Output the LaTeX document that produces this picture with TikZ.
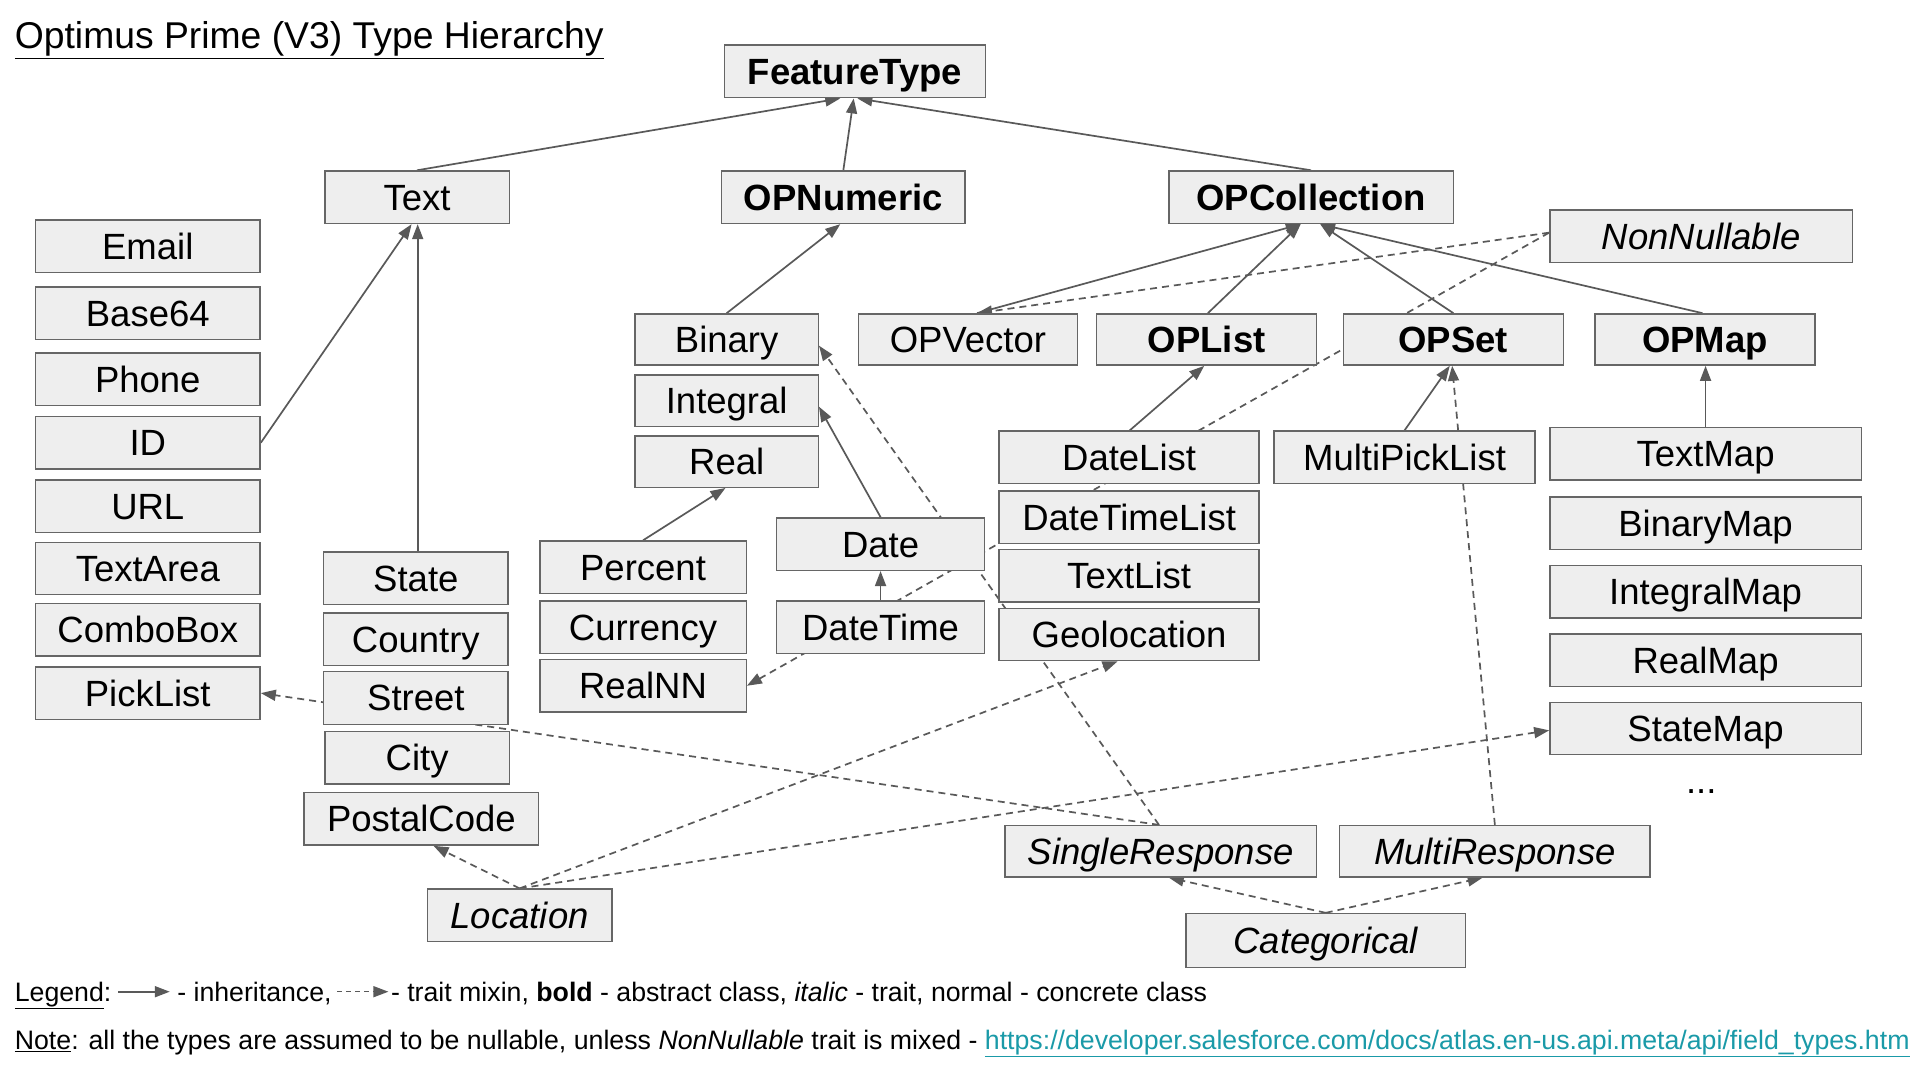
\documentclass[tikz,border=0pt]{standalone}
\usepackage{fontspec}
\setmainfont{Liberation Sans}
\usetikzlibrary{arrows.meta,calc}
\definecolor{boxfill}{HTML}{EEEEEE}
\definecolor{boxdraw}{HTML}{666666}
\definecolor{conn}{HTML}{595959}
\definecolor{linkc}{HTML}{1A9AA8}
\pgfdeclarelayer{bg}
\pgfsetlayers{bg,main}
\tikzset{
  lblfont/.style={font=\fontsize{36.5}{40}\selectfont},
  box/.style={draw=boxdraw, fill=boxfill, line width=1.4pt, inner sep=0pt,
              text height=26pt, text depth=0pt, lblfont},
  abst/.style={font=\fontsize{36.5}{40}\selectfont\bfseries},
  trait/.style={font=\fontsize{36.5}{40}\selectfont\itshape},
  wh/.style 2 args={minimum width=#1*1.2213pt, minimum height=#2*1.2213pt},
  inh/.style={draw=conn, line width=1.7pt, -{Triangle[length=15pt,width=11pt]}},
  mix/.style={inh, dash pattern=on 7pt off 5pt},
  small/.style={font=\fontsize{26.7}{30}\selectfont, inner sep=0pt},
}
\begin{document}
\begin{tikzpicture}[x=1.2213pt, y=-1.2213pt]
\useasboundingbox (0,0) rectangle (1568,876);
\begin{pgfonlayer}{bg}
\fill[white] (0,0) rectangle (1568,876);
\end{pgfonlayer}

% title
\node[anchor=base west, font=\fontsize{37.3}{40}\selectfont, inner sep=0pt] (title) at (12,40) {\underline{Optimus Prime (V3) Type Hierarchy}};

% top level
\node[box, abst, wh={214}{43}] (FeatureType) at (700,58.5) {FeatureType};
\node[box, wh={151}{43}] (Text) at (341.5,161.5) {Text};
\node[box, abst, wh={199}{43}] (OPNumeric) at (690.5,161.5) {OPNumeric};
\node[box, abst, wh={233}{43}] (OPCollection) at (1073.5,161.5) {OPCollection};
\node[box, trait, wh={248}{43}] (NonNullable) at (1393,193.5) {NonNullable};

% text column
\node[box, wh={184}{43}] (Email) at (121,201.5) {Email};
\node[box, wh={184}{43}] (Base64) at (121,256.5) {Base64};
\node[box, wh={184}{43}] (Phone) at (121,310.5) {Phone};
\node[box, wh={184}{43}] (ID) at (121,362.5) {ID};
\node[box, wh={184}{43}] (URL) at (121,414.5) {URL};
\node[box, wh={184}{43}] (TextArea) at (121,465.5) {TextArea};
\node[box, wh={184}{43}] (ComboBox) at (121,515.5) {ComboBox};
\node[box, wh={184}{43}] (PickList) at (121,567.5) {PickList};

% location column
\node[box, wh={151}{43}] (State) at (340.5,473.5) {State};
\node[box, wh={151}{43}] (Country) at (340.5,523.5) {Country};
\node[box, wh={151}{43}] (Street) at (340.5,571.5) {Street};
\node[box, wh={151}{43}] (City) at (341.5,620.5) {City};
\node[box, wh={192}{43}] (PostalCode) at (345,670.5) {PostalCode};

% numeric
\node[box, wh={150}{42}] (Binary) at (595,278) {Binary};
\node[box, wh={150}{42}] (Integral) at (595,328) {Integral};
\node[box, wh={150}{42}] (Real) at (595,378) {Real};
\node[box, wh={169}{43}] (Percent) at (526.5,464.5) {Percent};
\node[box, wh={169}{43}] (Currency) at (526.5,513.5) {Currency};
\node[box, wh={169}{43}] (RealNN) at (526.5,561.5) {RealNN};
\node[box, wh={170}{43}] (Date) at (721,445.5) {Date};
\node[box, wh={170}{43}] (DateTime) at (721,513.5) {DateTime};

% collections
\node[box, wh={179}{42}] (OPVector) at (792.5,278) {OPVector};
\node[box, abst, wh={180}{42}] (OPList) at (988,278) {OPList};
\node[box, abst, wh={180}{42}] (OPSet) at (1190,278) {OPSet};
\node[box, abst, wh={180}{42}] (OPMap) at (1396,278) {OPMap};
\node[box, wh={213}{43}] (DateList) at (924.5,374.5) {DateList};
\node[box, wh={213}{43}] (DateTimeList) at (924.5,423.5) {DateTimeList};
\node[box, wh={213}{43}] (TextList) at (924.5,471.5) {TextList};
\node[box, wh={213}{43}] (Geolocation) at (924.5,519.5) {Geolocation};
\node[box, wh={214}{43}] (MultiPickList) at (1150,374.5) {MultiPickList};
\node[box, wh={255}{43}] (TextMap) at (1396.5,371.5) {TextMap};
\node[box, wh={255}{43}] (BinaryMap) at (1396.5,428.5) {BinaryMap};
\node[box, wh={255}{43}] (IntegralMap) at (1396.5,484.5) {IntegralMap};
\node[box, wh={255}{43}] (RealMap) at (1396.5,540.5) {RealMap};
\node[box, wh={255}{43}] (StateMap) at (1396.5,596.5) {StateMap};
\node[lblfont, inner sep=0pt] (more) at (1393,648) {...};

% traits
\node[box, trait, wh={255}{42}] (SingleResponse) at (950.5,697) {SingleResponse};
\node[box, trait, wh={254}{42}] (MultiResponse) at (1224,697) {MultiResponse};
\node[box, trait, wh={151}{43}] (Location) at (425.5,749.5) {Location};
\node[box, trait, wh={229}{44}] (Categorical) at (1085.5,770) {Categorical};

% connectors
\begin{pgfonlayer}{bg}
\draw[inh] (Text.north) -- ($(FeatureType.south)+(-12,0)$);
\draw[inh] (OPNumeric.north) -- ($(FeatureType.south)+(-1,0)$);
\draw[inh] (OPCollection.north) -- ($(FeatureType.south)+(2,0)$);
\draw[inh] (ID.east) -- ($(Text.south)+(-4.5,0)$);
\draw[inh] ($(State.north)+(1.5,0)$) -- ($(Text.south)+(0.5,0)$);
\draw[inh] (Binary.north) -- ($(OPNumeric.south)+(-2.5,0)$);
\draw[inh] (Percent.north) -- ($(Real.south)+(-1,0)$);
\draw[inh] (Date.north) -- ($(Integral.east)+(0,5)$);
\draw[inh] (DateTime.north) -- (Date.south);
\draw[mix] ($(NonNullable.west)+(0,-3)$) -- (RealNN.east);
\draw[mix] ($(NonNullable.west)+(0,-3)$) -- ($(OPVector.north)+(7.5,0)$);
\draw[inh] ($(OPVector.north)+(7.5,0)$) -- ($(OPCollection.south)+(-8.5,0)$);
\draw[inh] ($(OPList.north)+(1,0)$) -- ($(OPCollection.south)+(-8.5,0)$);
\draw[inh] (OPSet.north) -- ($(OPCollection.south)+(7.5,0)$);
\draw[inh] ($(OPMap.north)+(-2,0)$) -- ($(OPCollection.south)+(7.5,0)$);
\draw[inh] ($(DateList.north)+(0.5,0)$) -- ($(OPList.south)+(-2,0)$);
\draw[inh] (MultiPickList.north) -- ($(OPSet.south)+(-3,0)$);
\draw[mix] (MultiResponse.north) -- ($(OPSet.south)+(-1,0)$);
\draw[inh] (TextMap.north) -- ($(OPMap.south)+(0.5,0)$);
\draw[mix] ($(SingleResponse.north)+(-1.5,0)$) -- (PickList.east);
\draw[mix] ($(SingleResponse.north)+(-1.5,0)$) -- ($(Binary.east)+(0,5)$);
\draw[mix] (Location.north) -- ($(PostalCode.south)+(10,0)$);
\draw[mix] (Location.north) -- ($(Geolocation.south)+(-9.5,0)$);
\draw[mix] (Location.north) -- ($(StateMap.west)+(0,1.5)$);
\draw[mix] (Categorical.north) -- ($(SingleResponse.south)+(6.5,0)$);
\draw[mix] (Categorical.north) -- ($(MultiResponse.south)+(-10,0)$);
\end{pgfonlayer}

% legend
\node[small, anchor=base west] (lg1) at (12,820) {\underline{Legend}:};
\coordinate (la1) at (97,812);
\coordinate (lb1) at (139,812);
\draw[inh, line width=1.8pt] (la1) -- (lb1);
\node[small, anchor=base west] (lg2) at (145,820) {- inheritance,};
\coordinate (la2) at (276,812);
\coordinate (lb2) at (318,812);
\draw[mix, line width=1.5pt, dash pattern=on 5pt off 4pt] (la2) -- (lb2);
\node[small, anchor=base west] (lg3) at (320,820) {- trait mixin, \textbf{bold} - abstract class, \textit{italic} - trait, normal - concrete class};
\node[small, anchor=base west] (note) at (12,859) {\underline{Note}: all the types are assumed to be nullable, unless \textit{NonNullable} trait is mixed - \textcolor{linkc}{\underline{https://developer.salesforce.com/docs/atlas.en-us.api.meta/api/field\_types.htm}}};
\end{tikzpicture}
\end{document}
